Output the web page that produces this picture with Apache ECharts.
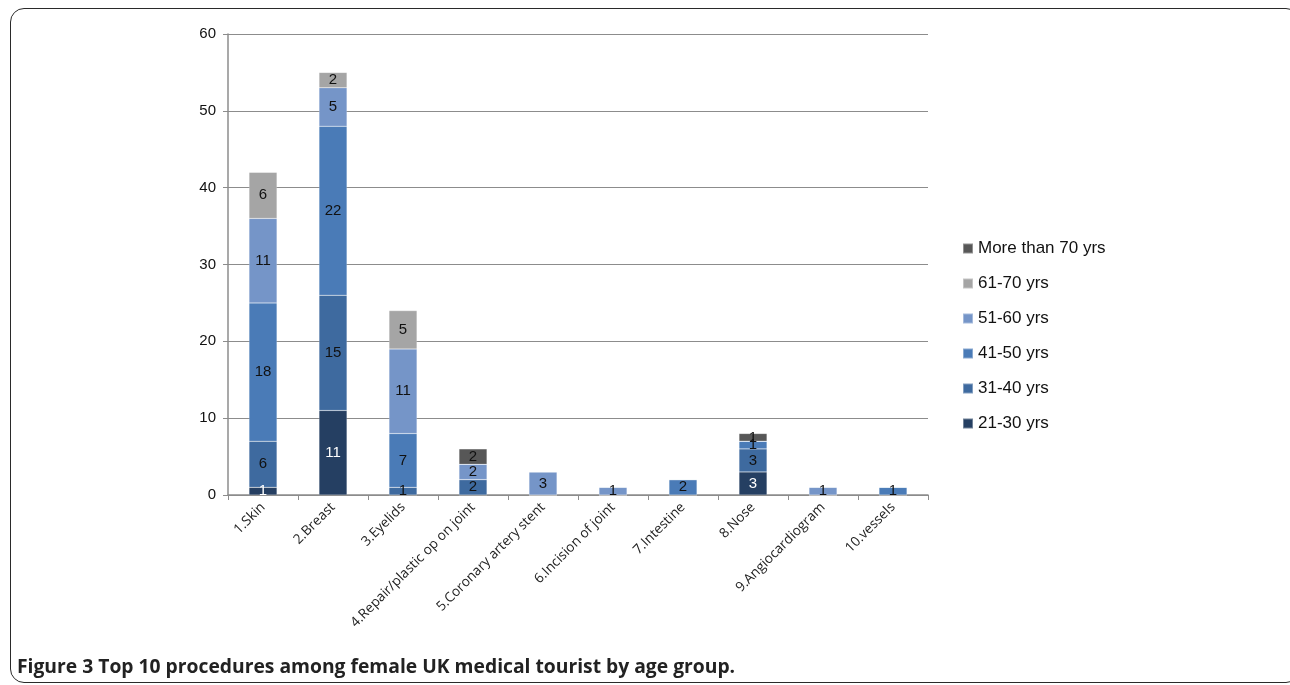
<!DOCTYPE html>
<html>
<head>
<meta charset="utf-8">
<script src="https://cdn.jsdelivr.net/npm/echarts@6/dist/echarts.min.js"></script>
<style>
html,body{margin:0;padding:0;background:#fff;}
#frame{position:absolute;left:10px;top:8px;width:1290px;height:675px;border:1.6px solid #2a2a2a;border-radius:14px;box-sizing:border-box;}
#chart{position:absolute;left:0;top:0;width:1290px;height:685px;}
</style>
</head>
<body>
<div id="frame"></div>
<div id="chart"></div>
<script>
const categories = ['1.Skin','2.Breast','3.Eyelids','4.Repair/plastic op on joint','5.Coronary artery stent','6.Incision of joint','7.Intestine','8.Nose','9.Angiocardiogram','10.vessels'];
const seriesNames = ['21-30 yrs','31-40 yrs','41-50 yrs','51-60 yrs','61-70 yrs','More than 70 yrs'];
const age21_30 = [1, 11, 0, 0, 0, 0, 0, 3, 0, 0];
const age31_40 = [6, 15, 1, 2, 0, 0, 0, 3, 0, 0];
const age41_50 = [18, 22, 7, 0, 0, 0, 2, 1, 0, 1];
const age51_60 = [11, 5, 11, 2, 3, 1, 0, 0, 1, 0];
const age61_70 = [6, 2, 5, 0, 0, 0, 0, 0, 0, 0];
const ageOver70 = [0, 0, 0, 2, 0, 0, 0, 1, 0, 0];
const yTicks = [0, 10, 20, 30, 40, 50, 60];
const colors = ['#253f62','#3e6a9f','#4a7bb7','#7595c8','#a5a5a5','#575757'];
const labelColors = ['#ffffff','#111','#111','#111','#111','#111'];
const allData = [age21_30, age31_40, age41_50, age51_60, age61_70, ageOver70];

const chart = echarts.init(document.getElementById('chart'));
chart.setOption({
  animation: false,
  title: {
    text: 'Figure 3 Top 10 procedures among female UK medical tourist by age group.',
    left: 17, top: 658, padding: 0,
    textStyle: {fontFamily: 'Open Sans', fontWeight: 'bold', fontSize: 19.3, color: '#222'}
  },
  grid: {left: 228, top: 34, right: 362, bottom: 190, containLabel: false},
  legend: {
    orient: 'vertical', left: 962, top: 240, padding: 0,
    itemWidth: 10, itemHeight: 10, itemGap: 18, icon: 'rect',
    data: seriesNames.slice().reverse(),
    textStyle: {fontFamily: 'Liberation Sans', fontSize: 17, color: '#111'}
  },
  xAxis: {
    type: 'category', data: categories,
    axisLine: {lineStyle: {color: '#8c8c8c', width: 1.5}},
    axisTick: {show: true, length: 5, lineStyle: {color: '#8c8c8c'}},
    axisLabel: {rotate: 45, fontFamily: 'Open Sans', fontSize: 13.6, color: '#222', interval: 0, margin: 10}
  },
  yAxis: {
    type: 'value', min: yTicks[0], max: yTicks[yTicks.length-1], interval: 10,
    axisLine: {show: true, lineStyle: {color: '#8c8c8c', width: 1.5}},
    axisTick: {show: true, length: 5, lineStyle: {color: '#8c8c8c'}},
    splitLine: {lineStyle: {color: '#8c8c8c', width: 1}},
    axisLabel: {fontFamily: 'Liberation Sans', fontSize: 15, color: '#111', margin: 12}
  },
  series: seriesNames.map((name, i) => ({
    name: name, type: 'bar', stack: 'total', data: allData[i],
    barWidth: '40%',
    itemStyle: {color: colors[i], borderColor: 'rgba(255,255,255,0.35)', borderWidth: 0.5},
    label: {
      show: true, position: 'inside',
      formatter: p => p.value ? String(p.value) : '',
      fontFamily: 'Liberation Sans', fontSize: 15, color: labelColors[i]
    }
  }))
});
</script>
</body>
</html>
